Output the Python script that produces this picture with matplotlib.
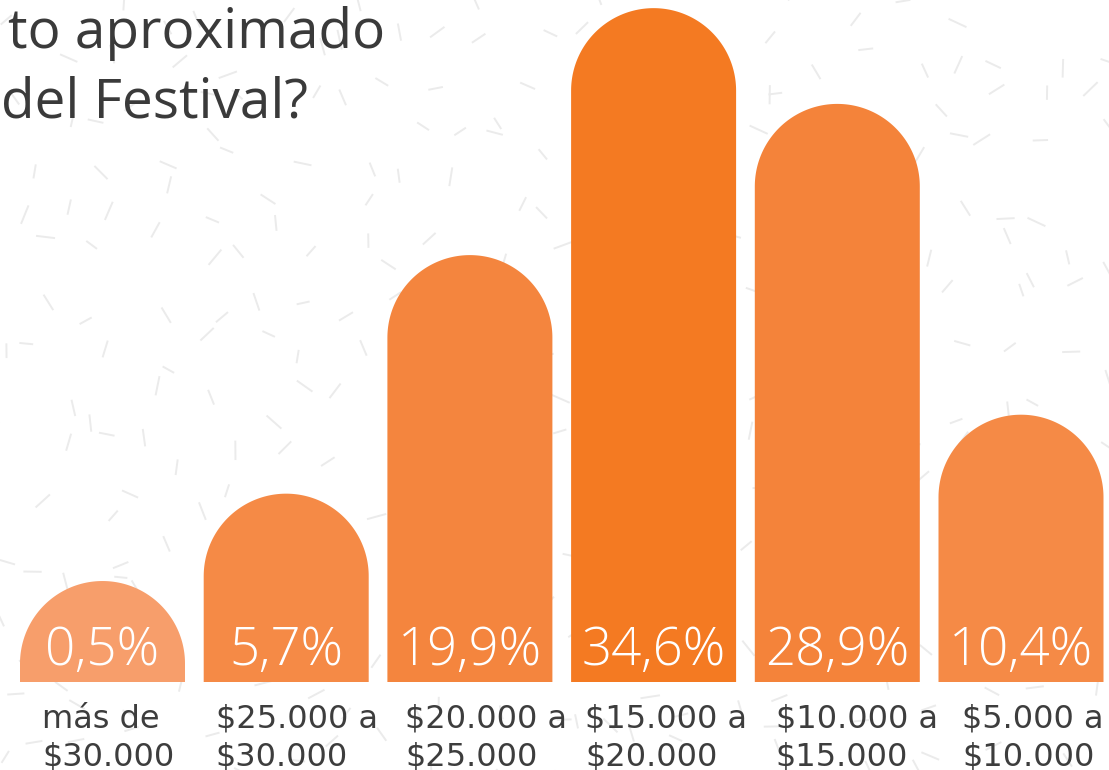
import numpy as np
import matplotlib
matplotlib.use('Agg')
import matplotlib.pyplot as plt
from matplotlib.patches import Polygon

# Data
categories = ['más de\n$30.000', '$25.000 a\n$30.000', '$20.000 a\n$25.000',
              '$15.000 a\n$20.000', '$10.000 a\n$15.000', '$5.000 a\n$10.000']
values = [0.5, 5.7, 19.9, 34.6, 28.9, 10.4]
value_labels = ['0,5%', '5,7%', '19,9%', '34,6%', '28,9%', '10,4%']
colors = ['#F79E6B', '#F58A46', '#F4853E', '#F47A22', '#F4833A', '#F58A46']
title_lines = ['to aproximado', 'del Festival?']

W, H = 1109, 770
fig = plt.figure(figsize=(W / 100, H / 100), dpi=100)
ax = fig.add_axes([0, 0, 1, 1])
ax.axis('off')

# layout: x in pixels, y in percent units
px_per_unit = 16.8
base_px = 88
ax.set_xlim(0, W)
ax.set_ylim(-base_px / px_per_unit, (H - base_px) / px_per_unit)


def py(pix_from_top):
    # pixel row -> y data
    return (H - pix_from_top - base_px) / px_per_unit


# light dash texture in the background
rng = np.random.default_rng(7)
for gx in np.arange(0, W + 50, 50):
    for gy in np.arange(0, H + 50, 50):
        cx = gx + rng.uniform(-25, 25)
        cy = gy + rng.uniform(-25, 25)
        ang = rng.uniform(0, np.pi)
        ln = rng.uniform(13, 20)
        dx, dy = np.cos(ang) * ln / 2, np.sin(ang) * ln / 2
        ax.plot([cx - dx, cx + dx], [py(cy - dy), py(cy + dy)], color='#ebebeb',
                lw=1.4, zorder=0, solid_capstyle='butt')

bar_w = 165
step = 183.7
x0 = 20
r_px = bar_w / 2
extra = 0.6  # straight part starts a bit above the value
label_dx = [22, 12, 18, 14, 21, 24]
theta = np.linspace(0, np.pi, 120)

for i, (v, c) in enumerate(zip(values, colors)):
    left = x0 + i * step
    cx = left + bar_w / 2
    top = v + extra
    arc_x = cx + r_px * np.cos(theta)
    arc_y = top + (r_px / px_per_unit) * np.sin(theta)
    xs = np.concatenate([[left + bar_w], arc_x, [left]])
    ys = np.concatenate([[0], arc_y, [0]])
    ax.add_patch(Polygon(np.column_stack([xs, ys]), closed=True, facecolor=c,
                         edgecolor='none', zorder=2))
    ax.text(cx, 1.0, value_labels[i], ha='center', va='baseline', color='white',
            fontsize=38, fontfamily='Open Sans', fontweight='light', zorder=3)
    line1, line2 = categories[i].split('\n')
    ax.text(left + label_dx[i], py(728), line1, ha='left', va='baseline',
            color='#3d3d3d', fontsize=23, fontfamily='DejaVu Sans', zorder=3)
    ax.text(left + label_dx[i], py(765), line2, ha='left', va='baseline',
            color='#3d3d3d', fontsize=23, fontfamily='DejaVu Sans', zorder=3)

ax.text(385, py(48), title_lines[0], ha='right', va='baseline',
        color='#3a3a3a', fontsize=39.5, fontfamily='Open Sans')
ax.text(308, py(117), title_lines[1], ha='right', va='baseline',
        color='#3a3a3a', fontsize=39.5, fontfamily='Open Sans')

fig.savefig('out.png', dpi=100)
